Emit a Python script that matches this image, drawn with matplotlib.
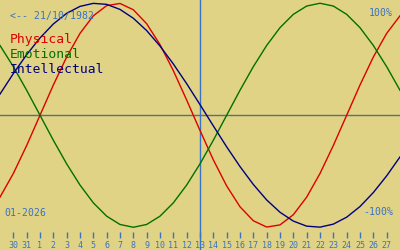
import matplotlib
matplotlib.use("Agg")
import matplotlib.pyplot as plt

# day offsets from 13/01/2026 (29 Dec 2025 .. 28 Jan 2026)
offsets = list(range(-15, 16))

physical = [-0.731, -0.520, -0.270, 0.000, 0.270, 0.520, 0.731, 0.888, 0.979, 0.998,
            0.942, 0.817, 0.631, 0.398, 0.136, -0.136, -0.398, -0.631, -0.817, -0.942,
            -0.998, -0.979, -0.888, -0.731, -0.520, -0.270, 0.000, 0.270, 0.520, 0.731, 0.888]
emotional = [0.623, 0.434, 0.223, 0.000, -0.223, -0.434, -0.623, -0.782, -0.901, -0.975,
             -1.000, -0.975, -0.901, -0.782, -0.623, -0.434, -0.223, 0.000, 0.223, 0.434,
             0.623, 0.782, 0.901, 0.975, 1.000, 0.975, 0.901, 0.782, 0.623, 0.434, 0.223]
intellectual = [0.189, 0.372, 0.541, 0.690, 0.815, 0.910, 0.972, 0.999, 0.990, 0.945,
                0.866, 0.756, 0.618, 0.458, 0.282, 0.095, -0.095, -0.282, -0.458, -0.618,
                -0.756, -0.866, -0.945, -0.990, -0.999, -0.972, -0.910, -0.815, -0.690, -0.541, -0.372]

tick_offsets = list(range(-14, 15))
tick_labels = ['30', '31', '1', '2', '3', '4', '5', '6', '7', '8', '9', '10', '11', '12', '13',
               '14', '15', '16', '17', '18', '19', '20', '21', '22', '23', '24', '25', '26', '27']

birth = '<-- 21/10/1982'
month = '01-2026'

bg = '#e0d385'
blue = '#3a72c4'
mono = 'DejaVu Sans Mono'

fig = plt.figure(figsize=(4, 2.5), dpi=100, facecolor=bg)
ax = fig.add_axes([0, 0, 1, 1], facecolor=bg)
ax.set_xlim(-15, 15)
ax.set_ylim(-1.203, 1.029)
ax.axis('off')

ax.axhline(0, color='#5a6e7e', lw=1)
ax.axvline(0, color=blue, lw=1)

ax.plot(offsets, physical, color='#dd0000', lw=1)
ax.plot(offsets, emotional, color='#007000', lw=1)
ax.plot(offsets, intellectual, color='#000080', lw=1)

ax.vlines(tick_offsets, -1.095, -1.045, color=blue, lw=1)
for o, lab in zip(tick_offsets, tick_labels):
    ax.text(o, -1.16, lab, color=blue, fontsize=6.0, family=mono,
            ha='center', va='center')

ax.text(0.025, 0.935, birth, transform=ax.transAxes, color=blue,
        fontsize=7.1, family=mono, va='center', ha='left')
ax.text(0.025, 0.828, 'Physical', transform=ax.transAxes, color='#dd0000',
        fontsize=9.4, family=mono, va='baseline')
ax.text(0.025, 0.768, 'Emotional', transform=ax.transAxes, color='#007000',
        fontsize=9.4, family=mono, va='baseline')
ax.text(0.025, 0.708, 'Intellectual', transform=ax.transAxes, color='#000080',
        fontsize=9.4, family=mono, va='baseline')

ax.text(0.983, 0.948, '100%', transform=ax.transAxes, color=blue,
        fontsize=7.1, family=mono, va='center', ha='right')
ax.text(0.983, 0.152, '-100%', transform=ax.transAxes, color=blue,
        fontsize=7.1, family=mono, va='center', ha='right')
ax.text(0.012, 0.148, month, transform=ax.transAxes, color=blue,
        fontsize=7.1, family=mono, va='center', ha='left')

fig.savefig('out.png', dpi=100, facecolor=bg)
